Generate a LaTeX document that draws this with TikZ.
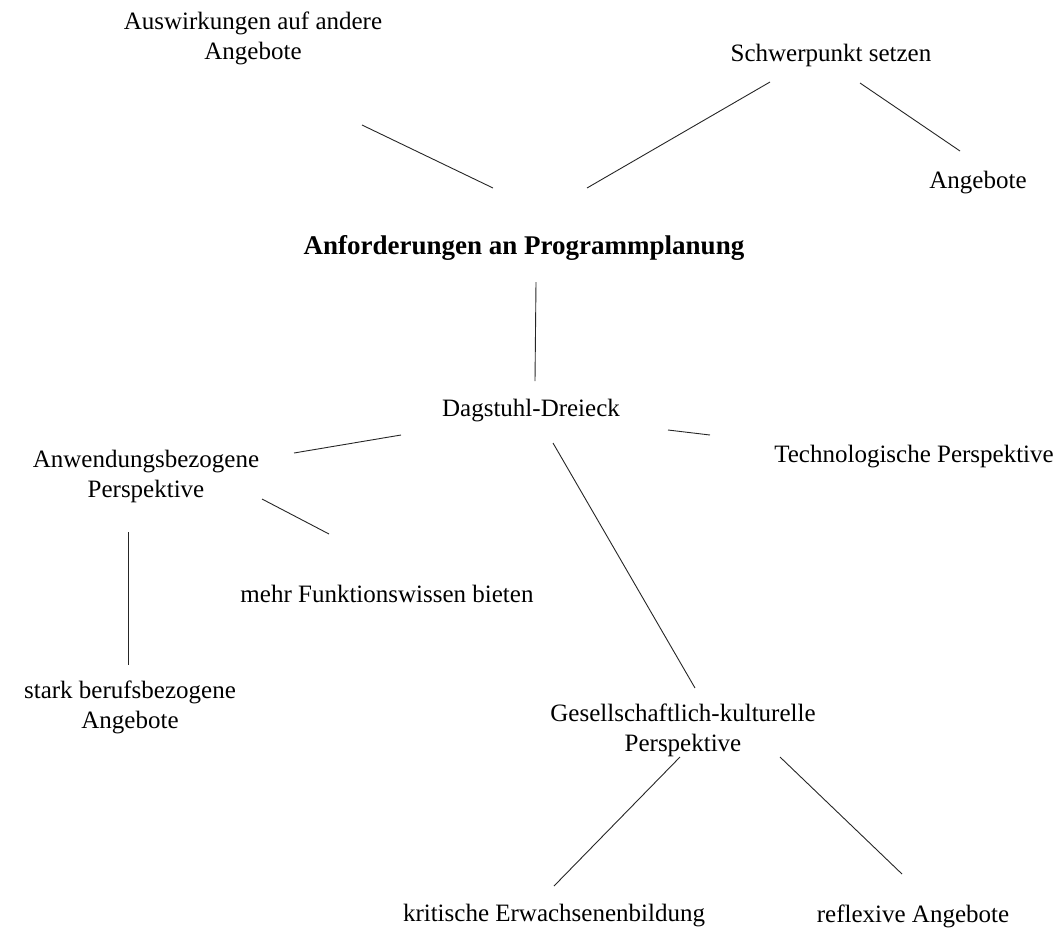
\documentclass[tikz,border=0pt]{standalone}
\usepackage{fontspec}
\setmainfont{Liberation Serif}
\begin{document}
\begin{tikzpicture}[x=1pt,y=-1pt,
  lbl/.style={inner sep=0pt,align=center,font=\fontsize{25}{30}\selectfont},
  link/.style={draw=black!85,line width=0.9pt}]
\useasboundingbox (0,0) rectangle (1060,927);

% topics
\node[lbl] (aus)   at (253,38)  {Auswirkungen auf andere\\Angebote};
\node[lbl] (sch)   at (831,55)  {Schwerpunkt setzen};
\node[lbl] (ang)   at (978,183) {Angebote};
\node[lbl,font=\fontsize{27}{30}\selectfont\bfseries] (title) at (524,248) {Anforderungen an Programmplanung};
\node[lbl] (dag)   at (531,411) {Dagstuhl-Dreieck};
\node[lbl] (anw)   at (146,476) {Anwendungsbezogene\\Perspektive};
\node[lbl] (tech)  at (914,457) {Technologische Perspektive};
\node[lbl] (mehr)  at (387,594) {mehr Funktionswissen bieten};
\node[lbl] (stark) at (130,707) {stark berufsbezogene\\Angebote};
\node[lbl] (ges)   at (683,730) {Gesellschaftlich-kulturelle\\Perspektive};
\node[lbl] (krit)  at (554,916) {kritische Erwachsenenbildung};
\node[lbl] (refl)  at (913,916) {reflexive Angebote};

% connectors (offsets from the node centres)
\draw[link] ([shift={(109,87)}]aus.center)   -- ([shift={(-31,-60)}]title.center);
\draw[link] ([shift={(-61,27)}]sch.center)   -- ([shift={(63,-60)}]title.center);
\draw[link] ([shift={(29,28)}]sch.center)    -- ([shift={(-18,-32)}]ang.center);
\draw[link] ([shift={(12,34)}]title.center)  -- ([shift={(4,-30)}]dag.center);
\draw[link] ([shift={(-130,24)}]dag.center)  -- ([shift={(148,-23)}]anw.center);
\draw[link] ([shift={(137,19)}]dag.center)   -- ([shift={(-204,-22)}]tech.center);
\draw[link] ([shift={(22,32)}]dag.center)    -- ([shift={(12,-42)}]ges.center);
\draw[link] ([shift={(116,23)}]anw.center)   -- ([shift={(-58,-60)}]mehr.center);
\draw[link] ([shift={(-18,56)}]anw.center)   -- ([shift={(-2,-42)}]stark.center);
\draw[link] ([shift={(-3,27)}]ges.center)    -- ([shift={(0,-30)}]krit.center);
\draw[link] ([shift={(97,27)}]ges.center)    -- ([shift={(-11,-42)}]refl.center);
\end{tikzpicture}
\end{document}
